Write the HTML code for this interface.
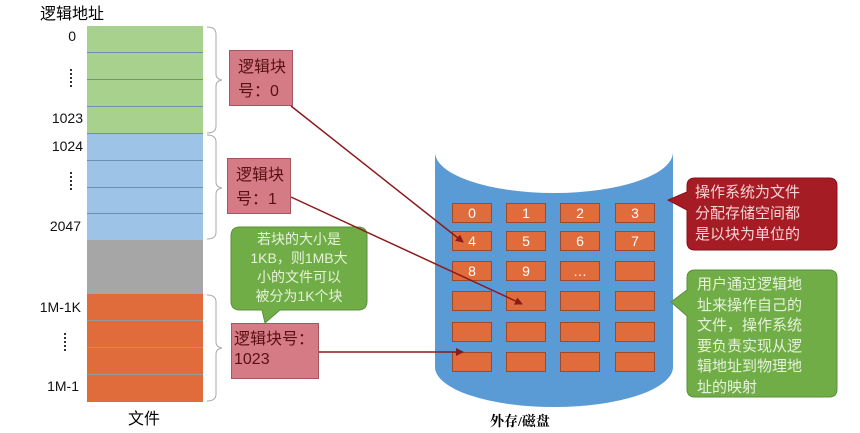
<!DOCTYPE html>
<html><head><meta charset="utf-8"><style>
body{margin:0;width:860px;height:433px;background:#fff;overflow:hidden;position:relative;font-family:"Liberation Sans","Noto Sans CJK SC",sans-serif}
.a{position:absolute}
.r{position:absolute;left:87px;width:116px;height:26px;border-bottom:1px solid #6b8fb0;box-sizing:border-box}
.lab{position:absolute;font-size:14px;color:#111;text-align:right;width:50px}
.pk{position:absolute;background:#d47b86;border:1px solid #a85560;box-sizing:border-box;color:#5a1010;font-size:16px;line-height:24px;padding:5px 2px 0 8px;white-space:nowrap}
.b{position:absolute;width:40px;height:20px;background:#e06c3c;border:1px solid #9c4a2a;box-sizing:border-box;color:#fff;font-size:14px;text-align:center;line-height:18px}
.dt{position:absolute;width:0;height:18px;border-left:2px dotted #333}
</style></head><body>
<div class="a" style="left:40px;top:0;font-size:16px">逻辑地址</div>
<div class="a" style="left:87px;top:26px;width:116px;height:376px;border:1px solid #6b8fb0;box-sizing:border-box"></div>
<div class="r" style="top:26px;height:27px;background:#a9d18e"></div>
<div class="r" style="top:53px;height:27px;background:#a9d18e"></div>
<div class="r" style="top:80px;height:27px;background:#a9d18e"></div>
<div class="r" style="top:107px;height:27px;background:#a9d18e"></div>
<div class="r" style="top:134px;height:27px;background:#9dc3e6"></div>
<div class="r" style="top:161px;height:27px;background:#9dc3e6"></div>
<div class="r" style="top:188px;height:26px;background:#9dc3e6"></div>
<div class="r" style="top:214px;height:26px;background:#9dc3e6;border:none"></div>
<div class="r" style="top:240px;height:54px;background:#a6a6a6;border:none"></div>
<div class="r" style="top:294px;height:27px;background:#e06c3c;border-color:#999"></div>
<div class="r" style="top:321px;height:27px;background:#e06c3c;border-color:#999"></div>
<div class="r" style="top:348px;height:27px;background:#e06c3c;border-color:#999"></div>
<div class="r" style="top:375px;height:27px;background:#e06c3c;border:none"></div>
<div class="lab" style="left:26px;top:28px">0</div>
<div class="dt" style="left:70px;top:69px"></div>
<div class="lab" style="left:33px;top:110px">1023</div>
<div class="lab" style="left:33px;top:138px">1024</div>
<div class="dt" style="left:70px;top:172px"></div>
<div class="lab" style="left:31px;top:218px">2047</div>
<div class="lab" style="left:31px;top:299px">1M-1K</div>
<div class="dt" style="left:64px;top:333px"></div>
<div class="lab" style="left:29px;top:378px">1M-1</div>
<div class="a" style="left:128px;top:405px;font-size:16px">文件</div>
<svg class="a" style="left:0;top:0" width="860" height="433">
<g fill="none" stroke="#aaa" stroke-width="1">
<path d="M207 27 Q216 27 216 34 V74 Q216 79 222 80 Q216 81 216 86 V126 Q216 133 207 133"/>
<path d="M207 135 Q216 135 216 142 V182 Q216 187 222 188 Q216 189 216 194 V232 Q216 239 207 239"/>
<path d="M207 295 Q216 295 216 302 V342 Q216 347 222 348 Q216 349 216 354 V394 Q216 401 207 401"/>
</g>
<path d="M435 152 V367 A119 40 0 0 0 673 367 V152 A119 41 0 0 1 435 152 Z" fill="#5b9bd5"/>
<path d="M231 236 Q231 227 240 227 H358 Q367 227 367 236 V301 Q367 310 358 310 H280 L265 323 L262 310 H240 Q231 310 231 301 Z" fill="#70ad47" stroke="#5a8f38"/>
<path d="M687 186 Q687 178 695 178 H829 Q837 178 837 186 V242 Q837 250 829 250 H695 Q687 250 687 242 V210 L668 200 L687 192 Z" fill="#a51c24" stroke="#8a1018"/>
<path d="M687 278 Q687 270 695 270 H829 Q837 270 837 278 V389 Q837 397 829 397 H695 Q687 397 687 389 V316 L671 302 L687 290 Z" fill="#70ad47" stroke="#5a8f38"/>
</svg>
<div class="pk" style="left:229px;top:50px;width:64px;height:56px">逻辑块<br>号：0</div>
<div class="pk" style="left:227px;top:158px;width:64px;height:56px">逻辑块<br>号：1</div>
<div class="pk" style="left:231px;top:323px;width:88px;height:56px;line-height:20px;padding:6px 2px">逻辑块号：<br>1023</div>
<div class="a" style="left:235px;top:230px;width:128px;text-align:center;color:#e6f2da;font-size:14px;line-height:19px">若块的大小是<br>1KB，则1MB大<br>小的文件可以<br>被分为1K个块</div>
<div class="a" style="left:695px;top:182px;color:#f5d5d5;font-size:15px;line-height:21px">操作系统为文件<br>分配存储空间都<br>是以块为单位的</div>
<div class="a" style="left:697px;top:275px;color:#e6f2da;font-size:15px;line-height:20.5px">用户通过逻辑地<br>址来操作自己的<br>文件，操作系统<br>要负责实现从逻<br>辑地址到物理地<br>址的映射</div>
<div class="b" style="left:452px;top:203px">0</div><div class="b" style="left:506px;top:203px">1</div><div class="b" style="left:560px;top:203px">2</div><div class="b" style="left:615px;top:203px">3</div>
<div class="b" style="left:452px;top:231px">4</div><div class="b" style="left:506px;top:231px">5</div><div class="b" style="left:560px;top:231px">6</div><div class="b" style="left:615px;top:231px">7</div>
<div class="b" style="left:452px;top:261px">8</div><div class="b" style="left:506px;top:261px">9</div><div class="b" style="left:560px;top:261px">…</div><div class="b" style="left:615px;top:261px"></div>
<div class="b" style="left:452px;top:291px"></div><div class="b" style="left:506px;top:291px"></div><div class="b" style="left:560px;top:291px"></div><div class="b" style="left:615px;top:291px"></div>
<div class="b" style="left:452px;top:322px"></div><div class="b" style="left:506px;top:322px"></div><div class="b" style="left:560px;top:322px"></div><div class="b" style="left:615px;top:322px"></div>
<div class="b" style="left:452px;top:352px"></div><div class="b" style="left:506px;top:352px"></div><div class="b" style="left:560px;top:352px"></div><div class="b" style="left:615px;top:352px"></div>
<svg class="a" style="left:0;top:0" width="860" height="433">
<defs><marker id="m" markerWidth="8" markerHeight="8" refX="7" refY="4" orient="auto" markerUnits="userSpaceOnUse"><path d="M0 0 L8 4 L0 8 Z" fill="#8b1a1a"/></marker></defs>
<g stroke="#8b1a1a" stroke-width="1.5" fill="none" marker-end="url(#m)">
<line x1="291" y1="106" x2="463" y2="242"/>
<line x1="291" y1="197" x2="522" y2="304"/>
<line x1="319" y1="352" x2="463" y2="352"/>
</g></svg>
<div class="a" style="left:490px;top:411px;font-size:14px;font-weight:bold;font-family:'Liberation Serif','Noto Serif CJK SC',serif">外存/磁盘</div>
</body></html>
